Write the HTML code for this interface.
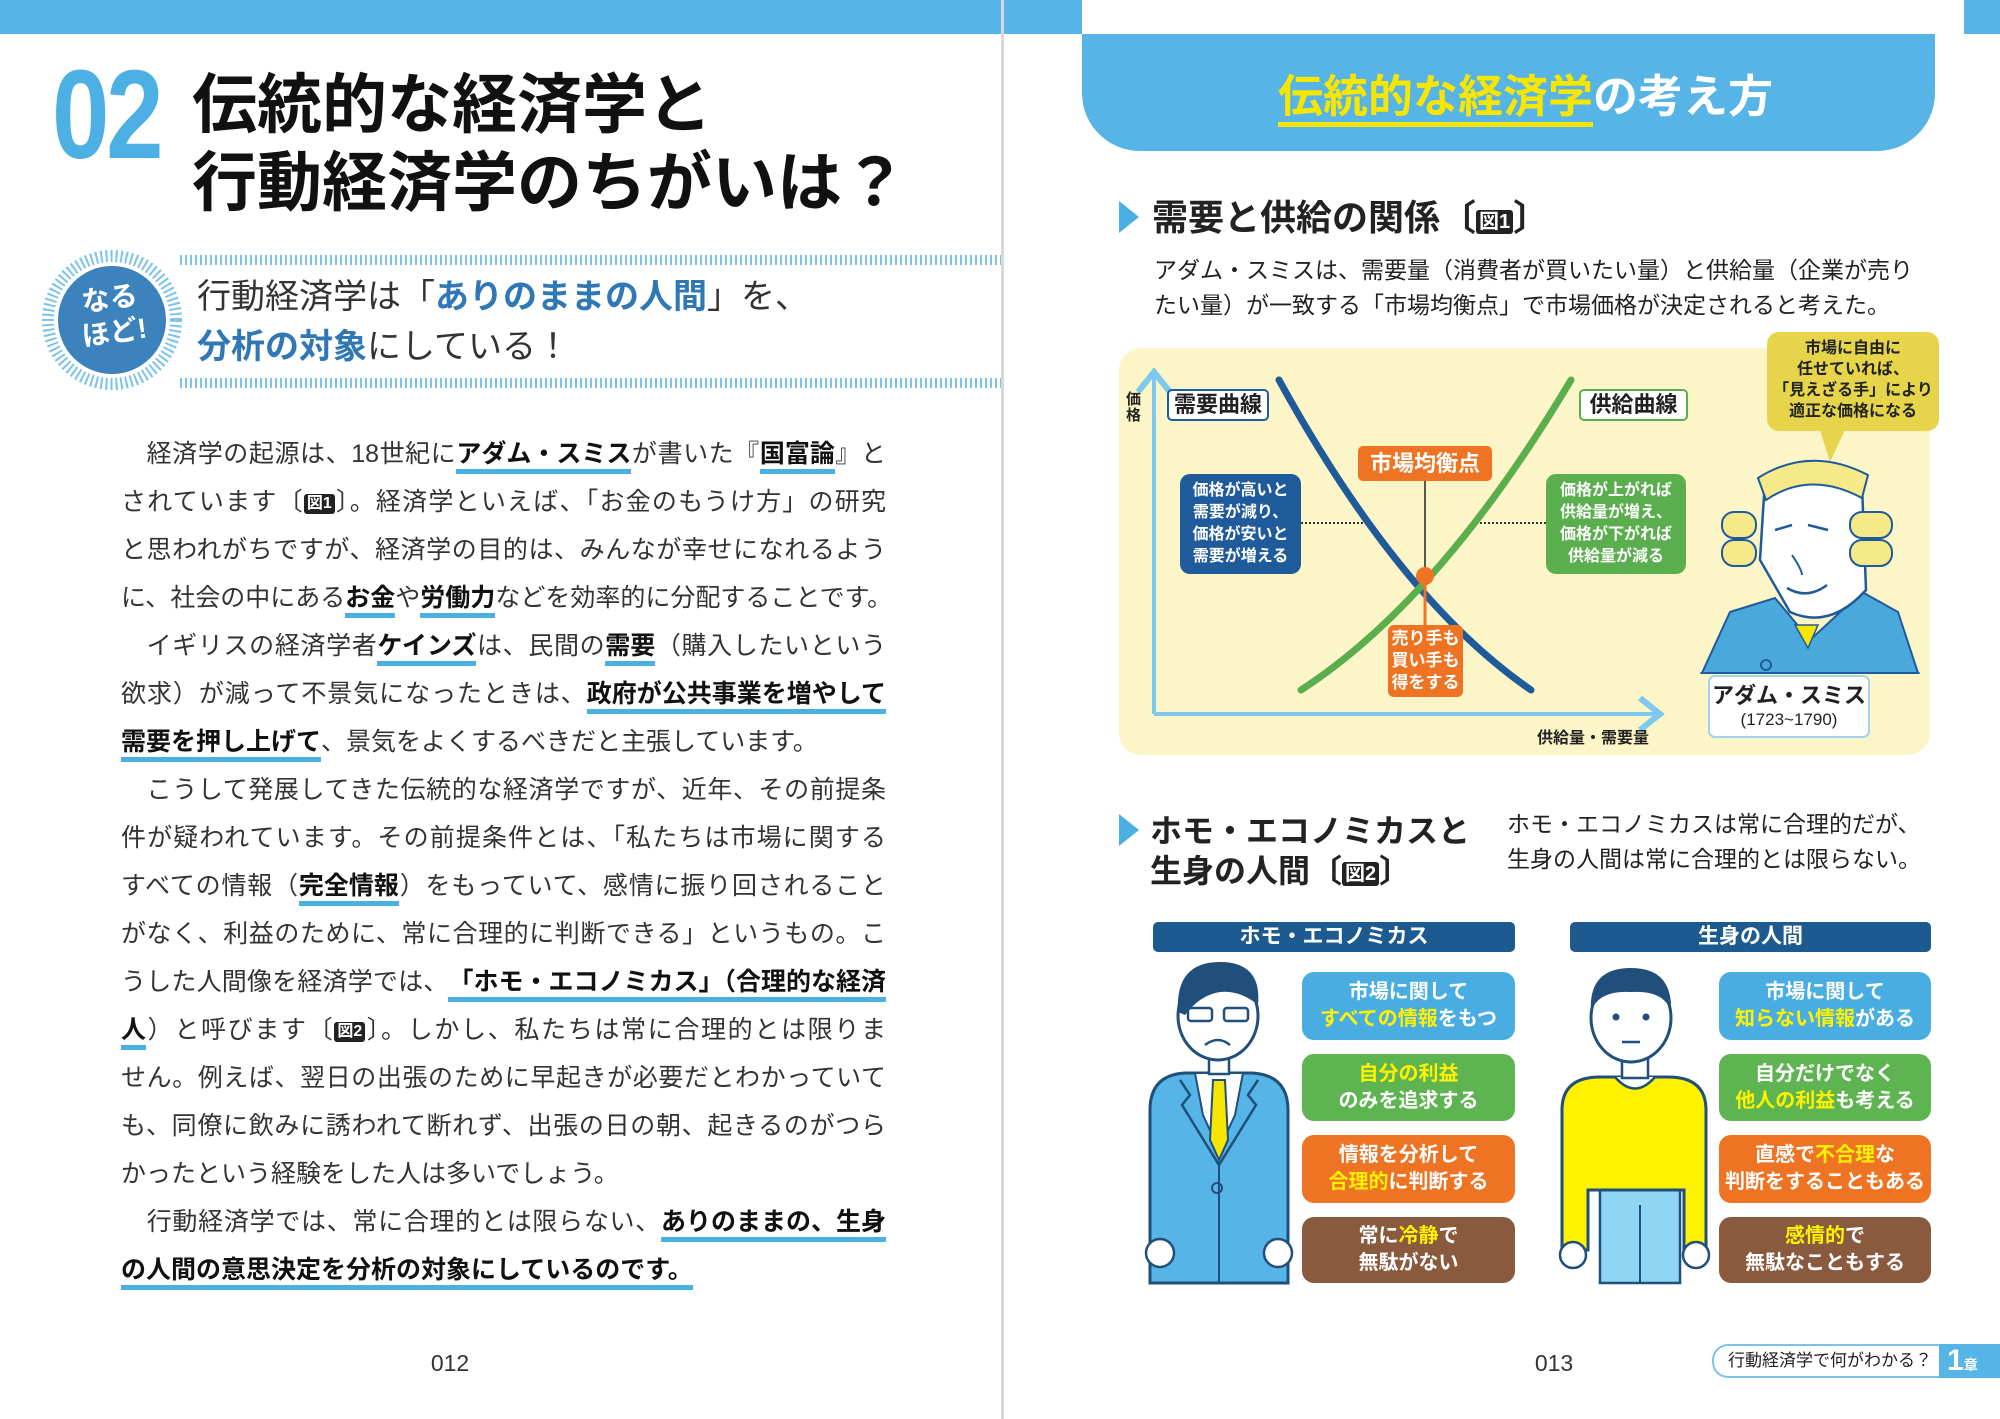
<!DOCTYPE html>
<html><head><meta charset="utf-8">
<style>
*{margin:0;padding:0;box-sizing:border-box}
body{width:2000px;height:1419px;position:relative;overflow:hidden;background:#fff;font-family:"Liberation Sans","Noto Sans CJK JP",sans-serif;color:#222}
.a{position:absolute;white-space:nowrap}
.ln{position:absolute;left:121px;width:765px;height:48px;line-height:48px;font-size:25px;text-align:justify;text-align-last:justify;white-space:nowrap;color:#333}
.ln.l{text-align-last:left}
.u{font-weight:bold;color:#111;border-bottom:5px solid #4ab0e4;line-height:30px;display:inline-block}
.fig{display:inline-block;background:#222;color:#fff;font-size:16px;font-weight:bold;line-height:20px;padding:0 3px;border-radius:3px;vertical-align:2px}
.stripe{position:absolute;left:180px;width:821px;height:10px;background:repeating-linear-gradient(90deg,#7cc3ea 0 2px,transparent 2px 5px)}
.box{position:absolute;border-radius:12px;color:#fff;font-weight:bold;font-size:20px;line-height:27px;text-align:center;display:flex;flex-direction:column;justify-content:center}
.y{color:#fff200}
.hb{position:absolute;background:#1d5a8f;color:#fff;font-size:21px;font-weight:bold;text-align:center;line-height:30px;height:30px;border-radius:5px}
</style></head><body>

<div class="a" style="left:0;top:0;width:1001px;height:34px;background:#56b4e6"></div>
<div class="a" style="left:1004px;top:0;width:78px;height:34px;background:#56b4e6"></div>
<div class="a" style="left:1964px;top:0;width:36px;height:34px;background:#56b4e6"></div>
<div class="a" style="left:1001px;top:0;width:3px;height:1419px;background:#d8d8d8"></div>

<div class="a" style="left:52px;top:52px;font-size:126px;line-height:126px;font-weight:bold;color:#4cb0e5;transform:scaleX(0.82);transform-origin:left top;letter-spacing:-4px">02</div>
<div class="a" style="left:192px;top:70px;font-size:65px;line-height:70px;font-weight:bold;color:#111">伝統的な経済学と</div>
<div class="a" style="left:192px;top:148px;font-size:65px;line-height:70px;font-weight:bold;color:#111">行動経済学のちがいは？</div>

<div class="stripe" style="top:255px"></div>
<div class="stripe" style="top:378px"></div>
<svg class="a" style="left:0;top:0" width="1001" height="420">
<circle cx="112" cy="320" r="64" fill="#fff" stroke="#7cc3ea" stroke-width="12" stroke-dasharray="2 3"/>
<circle cx="112" cy="320" r="54" fill="#3c82bd"/>
</svg>
<div class="a" style="left:72px;top:282px;width:80px;text-align:center;color:#fff;font-weight:bold;font-size:28px;line-height:34px;transform:rotate(-8deg)">なる<br>ほど!</div>
<div class="a" style="left:197px;top:276px;font-size:34px;line-height:42px;color:#333">行動経済学は「<b style="color:#2f78b5">ありのままの人間</b>」を、</div>
<div class="a" style="left:197px;top:326px;font-size:34px;line-height:42px;color:#333"><b style="color:#2f78b5">分析の対象</b>にしている！</div>

<div class="ln" style="top:430px">　経済学の起源は、18世紀に<span class="u">アダム・スミス</span>が書いた『<span class="u">国富論</span>』と</div>
<div class="ln" style="top:478px">されています〔<span class="fig">図1</span>〕。経済学といえば、「お金のもうけ方」の研究</div>
<div class="ln" style="top:526px">と思われがちですが、経済学の目的は、みんなが幸せになれるよう</div>
<div class="ln" style="top:574px">に、社会の中にある<span class="u">お金</span>や<span class="u">労働力</span>などを効率的に分配することです。</div>
<div class="ln" style="top:622px">　イギリスの経済学者<span class="u">ケインズ</span>は、民間の<span class="u">需要</span>（購入したいという</div>
<div class="ln" style="top:670px">欲求）が減って不景気になったときは、<span class="u">政府が公共事業を増やして</span></div>
<div class="ln l" style="top:718px"><span class="u">需要を押し上げて</span>、景気をよくするべきだと主張しています。</div>
<div class="ln" style="top:766px">　こうして発展してきた伝統的な経済学ですが、近年、その前提条</div>
<div class="ln" style="top:814px">件が疑われています。その前提条件とは、「私たちは市場に関する</div>
<div class="ln" style="top:862px">すべての情報（<span class="u">完全情報</span>）をもっていて、感情に振り回されること</div>
<div class="ln" style="top:910px">がなく、利益のために、常に合理的に判断できる」というもの。こ</div>
<div class="ln" style="top:958px">うした人間像を経済学では、<span class="u">「ホモ・エコノミカス」（合理的な経済</span></div>
<div class="ln" style="top:1006px"><span class="u">人</span>）と呼びます〔<span class="fig">図2</span>〕。しかし、私たちは常に合理的とは限りま</div>
<div class="ln" style="top:1054px">せん。例えば、翌日の出張のために早起きが必要だとわかっていて</div>
<div class="ln" style="top:1102px">も、同僚に飲みに誘われて断れず、出張の日の朝、起きるのがつら</div>
<div class="ln l" style="top:1150px">かったという経験をした人は多いでしょう。</div>
<div class="ln" style="top:1198px">　行動経済学では、常に合理的とは限らない、<span class="u">ありのままの、生身</span></div>
<div class="ln l" style="top:1246px"><span class="u">の人間の意思決定を分析の対象にしているのです。</span></div>

<div class="a" style="left:420px;top:1350px;width:60px;text-align:center;font-size:23px;color:#333">012</div>
<div class="a" style="left:1524px;top:1350px;width:60px;text-align:center;font-size:23px;color:#333">013</div>

<div class="a" style="left:1082px;top:34px;width:853px;height:117px;background:#56b4e6;border-radius:0 0 58px 58px"></div>
<div class="a" style="left:1278px;top:70px;font-size:45px;line-height:54px;font-weight:bold;color:#fff"><span style="color:#f7e600;border-bottom:5px solid #f7e600">伝統的な経済学</span>の考え方</div>

<svg class="a" style="left:1117px;top:200px" width="24" height="34"><polygon points="2,1 22,17 2,33" fill="#4ab0e4"/></svg>
<div class="a" style="left:1152px;top:196px;font-size:36px;line-height:44px;font-weight:bold;color:#222">需要と供給の関係〔<span class="fig" style="font-size:20px;line-height:24px">図1</span>〕</div>
<div class="a" style="left:1154px;top:254px;font-size:23px;line-height:32px;color:#222">アダム・スミスは、需要量（消費者が買いたい量）と供給量（企業が売り</div>
<div class="a" style="left:1154px;top:289px;font-size:23px;line-height:32px;color:#222">たい量）が一致する「市場均衡点」で市場価格が決定されると考えた。</div>

<div class="a" style="left:1119px;top:348px;width:811px;height:407px;background:#fcf5c7;border-radius:22px"></div>
<svg class="a" style="left:0;top:0" width="2000" height="1419">
<defs><marker id="ar" markerWidth="10" markerHeight="10" refX="5" refY="5" orient="auto"><path d="M1,1 L6,5 L1,9" fill="none" stroke="#7cc8ee" stroke-width="1.5"/></marker></defs>
<line x1="1154" y1="714" x2="1154" y2="376" stroke="#7cc8ee" stroke-width="4" marker-end="url(#ar)"/>
<line x1="1154" y1="714" x2="1656" y2="714" stroke="#7cc8ee" stroke-width="4" marker-end="url(#ar)"/>
<line x1="1301" y1="523" x2="1370" y2="523" stroke="#333" stroke-width="2" stroke-dasharray="2 2"/>
<line x1="1480" y1="523" x2="1546" y2="523" stroke="#333" stroke-width="2" stroke-dasharray="2 2"/>
<path d="M1279,380 Q1400,600 1531,690" fill="none" stroke="#1f5a9a" stroke-width="7" stroke-linecap="round"/>
<path d="M1301,690 Q1440,600 1571,380" fill="none" stroke="#5aae4e" stroke-width="7" stroke-linecap="round"/>
<line x1="1425" y1="481" x2="1425" y2="575" stroke="#222" stroke-width="1.5"/>
<line x1="1425" y1="575" x2="1425" y2="625" stroke="#ee7424" stroke-width="3"/>
<circle cx="1425" cy="576" r="9" fill="#ee7424"/>
<rect x="1767" y="332" width="172" height="99" rx="12" fill="#e6d54a"/>
<polygon points="1820,430 1845,430 1830,462" fill="#e6d54a"/>
<line x1="1700" y1="673" x2="1920" y2="673" stroke="#4aa8dc" stroke-width="2"/>
<path d="M1702,673 L1730,612 L1775,598 L1810,640 L1862,592 L1898,612 L1918,673 Z" fill="#4aa8dc" stroke="#1f5a9a" stroke-width="2"/>
<polygon points="1795,625 1818,625 1808,648" fill="#f7e600" stroke="#1f5a9a" stroke-width="1.5"/>
<circle cx="1766" cy="665" r="5" fill="none" stroke="#1f5a9a" stroke-width="2"/>
<path d="M1765,480 Q1815,450 1862,485 L1866,590 Q1830,630 1790,612 L1760,560 Z" fill="#fff" stroke="#1f5a9a" stroke-width="2.5"/>
<path d="M1758,478 Q1810,445 1868,475 L1862,498 Q1810,470 1766,500 Z" fill="#f5e98a" stroke="#1f5a9a" stroke-width="2"/>
<rect x="1722" y="512" width="34" height="26" rx="12" fill="#f5e98a" stroke="#1f5a9a" stroke-width="2"/>
<rect x="1722" y="540" width="34" height="26" rx="12" fill="#f5e98a" stroke="#1f5a9a" stroke-width="2"/>
<rect x="1850" y="512" width="42" height="26" rx="12" fill="#f5e98a" stroke="#1f5a9a" stroke-width="2"/>
<rect x="1850" y="540" width="42" height="26" rx="12" fill="#f5e98a" stroke="#1f5a9a" stroke-width="2"/>
<path d="M1775,530 L1792,525 M1808,525 L1828,530" stroke="#1f5a9a" stroke-width="2.5" fill="none"/>
<path d="M1792,555 Q1802,570 1802,575" stroke="#1f5a9a" stroke-width="2" fill="none"/>
<path d="M1787,588 Q1807,600 1827,585" stroke="#1f5a9a" stroke-width="2.5" fill="none"/>
<rect x="1709" y="676" width="160" height="61" rx="6" fill="#fff" stroke="#9fd3ef" stroke-width="2"/>

<path d="M1150,1283 L1150,1110 Q1150,1075 1185,1073 L1252,1073 Q1288,1075 1288,1110 L1288,1283 Z" fill="#56b4e6" stroke="#1f4f7a" stroke-width="3"/>
<polygon points="1195,1073 1243,1073 1235,1115 1219,1150 1203,1115" fill="#fff" stroke="#1f4f7a" stroke-width="2"/>
<polygon points="1213,1080 1225,1080 1228,1140 1219,1160 1210,1140" fill="#f7e600" stroke="#1f4f7a" stroke-width="2"/>
<path d="M1180,1080 L1190,1095 L1182,1105 L1219,1165 M1258,1080 L1248,1095 L1256,1105 L1219,1165" fill="none" stroke="#1f4f7a" stroke-width="2.5"/>
<line x1="1219" y1="1165" x2="1219" y2="1283" stroke="#1f4f7a" stroke-width="2"/>
<circle cx="1217" cy="1188" r="5" fill="none" stroke="#1f4f7a" stroke-width="2"/>
<circle cx="1160" cy="1253" r="14" fill="#fff" stroke="#1f4f7a" stroke-width="2.5"/>
<circle cx="1278" cy="1253" r="14" fill="#fff" stroke="#1f4f7a" stroke-width="2.5"/>
<rect x="1209" y="1048" width="20" height="26" fill="#fff" stroke="#1f4f7a" stroke-width="2.5"/>
<ellipse cx="1218" cy="1016" rx="40" ry="44" fill="#fff" stroke="#1f4f7a" stroke-width="3"/>
<path d="M1178,1012 Q1175,962 1220,962 Q1262,962 1258,1005 Q1240,990 1220,992 Q1200,995 1185,1015 Z" fill="#1f4f7a"/>
<rect x="1188" y="1008" width="24" height="13" rx="3" fill="none" stroke="#1f4f7a" stroke-width="2.5"/>
<rect x="1224" y="1008" width="24" height="13" rx="3" fill="none" stroke="#1f4f7a" stroke-width="2.5"/>
<path d="M1205,1045 Q1218,1035 1230,1045" fill="none" stroke="#1f4f7a" stroke-width="2.5"/>
<rect x="1600" y="1180" width="80" height="103" fill="#8fd6f5" stroke="#1f4f7a" stroke-width="2.5"/>
<line x1="1640" y1="1205" x2="1640" y2="1283" stroke="#1f4f7a" stroke-width="2"/>
<path d="M1562,1250 L1562,1110 Q1562,1077 1600,1077 L1668,1077 Q1706,1077 1706,1110 L1706,1250 L1684,1250 L1684,1190 L1588,1190 L1588,1250 Z" fill="#fff200" stroke="#1f4f7a" stroke-width="3"/>
<circle cx="1573" cy="1255" r="13" fill="#fff" stroke="#1f4f7a" stroke-width="2.5"/>
<circle cx="1696" cy="1255" r="13" fill="#fff" stroke="#1f4f7a" stroke-width="2.5"/>
<path d="M1615,1077 Q1635,1100 1655,1077" fill="#fff" stroke="#1f4f7a" stroke-width="2.5"/>
<rect x="1622" y="1050" width="26" height="28" fill="#fff" stroke="#1f4f7a" stroke-width="2.5"/>
<ellipse cx="1631" cy="1018" rx="40" ry="44" fill="#fff" stroke="#1f4f7a" stroke-width="3"/>
<path d="M1591,1012 Q1588,968 1631,968 Q1673,968 1671,1012 Q1665,990 1631,992 Q1598,990 1591,1012 Z" fill="#1f4f7a"/>
<circle cx="1616" cy="1017" r="3.5" fill="#1f4f7a"/><circle cx="1646" cy="1017" r="3.5" fill="#1f4f7a"/>
<line x1="1622" y1="1042" x2="1640" y2="1042" stroke="#1f4f7a" stroke-width="2.5"/>
</svg>

<div class="a" style="left:1126px;top:392px;font-size:15px;font-weight:bold;line-height:16px;width:18px;color:#222">価<br>格</div>
<div class="a" style="left:1167px;top:389px;width:102px;height:32px;background:#fff;border:2px solid #1f5a9a;border-radius:5px;font-size:22px;font-weight:bold;text-align:center;line-height:28px">需要曲線</div>
<div class="a" style="left:1579px;top:389px;width:109px;height:32px;background:#fff;border:2px solid #5aae4e;border-radius:5px;font-size:22px;font-weight:bold;text-align:center;line-height:28px">供給曲線</div>
<div class="box" style="left:1358px;top:446px;width:134px;height:35px;background:#ee7424;border-radius:5px;font-size:22px">市場均衡点</div>
<div class="box" style="left:1388px;top:625px;width:75px;height:72px;background:#ee7424;border-radius:6px;font-size:17px;line-height:22px">売り手も<br>買い手も<br>得をする</div>
<div class="box" style="left:1180px;top:474px;width:121px;height:100px;background:#1f5a9a;border-radius:10px;font-size:16px;line-height:22px">価格が高いと<br>需要が減り、<br>価格が安いと<br>需要が増える</div>
<div class="box" style="left:1546px;top:474px;width:140px;height:100px;background:#5aae4e;border-radius:10px;font-size:16px;line-height:22px">価格が上がれば<br>供給量が増え、<br>価格が下がれば<br>供給量が減る</div>
<div class="a" style="left:1537px;top:724px;font-size:16px;font-weight:bold">供給量・需要量</div>
<div class="a" style="left:1767px;top:338px;width:172px;text-align:center;font-size:16px;font-weight:bold;line-height:21px;color:#222">市場に自由に<br>任せていれば、<br>「見えざる手」により<br>適正な価格になる</div>
<div class="a" style="left:1709px;top:683px;width:160px;text-align:center;font-size:22px;font-weight:bold;line-height:26px">アダム・スミス</div>
<div class="a" style="left:1709px;top:709px;width:160px;text-align:center;font-size:17px;line-height:22px">(1723~1790)</div>

<svg class="a" style="left:1117px;top:813px" width="24" height="34"><polygon points="2,1 22,17 2,33" fill="#4ab0e4"/></svg>
<div class="a" style="left:1150px;top:810px;font-size:32px;line-height:42px;font-weight:bold;color:#222">ホモ・エコノミカスと</div>
<div class="a" style="left:1150px;top:850px;font-size:32px;line-height:42px;font-weight:bold;color:#222">生身の人間〔<span class="fig" style="font-size:20px;line-height:24px">図2</span>〕</div>
<div class="a" style="left:1507px;top:808px;font-size:23px;line-height:32px;color:#222">ホモ・エコノミカスは常に合理的だが、</div>
<div class="a" style="left:1507px;top:843px;font-size:23px;line-height:32px;color:#222">生身の人間は常に合理的とは限らない。</div>

<div class="hb" style="left:1153px;top:922px;width:362px">ホモ・エコノミカス</div>
<div class="hb" style="left:1570px;top:922px;width:361px">生身の人間</div>

<div class="box" style="left:1302px;top:972px;width:213px;height:68px;background:#49ade2">市場に関して<br><span><span class="y">すべての情報</span>をもつ</span></div>
<div class="box" style="left:1302px;top:1054px;width:213px;height:67px;background:#5eb450"><span class="y">自分の利益</span>のみを追求する</div>
<div class="box" style="left:1302px;top:1135px;width:213px;height:68px;background:#ee7424">情報を分析して<br><span><span class="y">合理的</span>に判断する</span></div>
<div class="box" style="left:1302px;top:1217px;width:213px;height:66px;background:#8a5a3f"><span>常に<span class="y">冷静</span>で</span>無駄がない</div>

<div class="box" style="left:1719px;top:972px;width:212px;height:68px;background:#49ade2">市場に関して<br><span><span class="y">知らない情報</span>がある</span></div>
<div class="box" style="left:1719px;top:1054px;width:212px;height:67px;background:#5eb450">自分だけでなく<br><span><span class="y">他人の利益</span>も考える</span></div>
<div class="box" style="left:1719px;top:1135px;width:212px;height:68px;background:#ee7424"><span>直感で<span class="y">不合理</span>な</span>判断をすることもある</div>
<div class="box" style="left:1719px;top:1217px;width:212px;height:66px;background:#8a5a3f"><span><span class="y">感情的</span>で</span>無駄なこともする</div>

<div class="a" style="left:1712px;top:1344px;width:230px;height:34px;border:2px solid #7cc3ea;border-right:none;border-radius:16px 0 0 16px;background:#fff;font-size:17px;line-height:30px;padding-left:14px;color:#222">行動経済学で何がわかる？</div>
<div class="a" style="left:1939px;top:1344px;width:61px;height:34px;background:#56b4e6;color:#fff;font-weight:bold;font-size:30px;line-height:34px;padding-left:8px">1<span style="font-size:14px">章</span></div>
</body></html>
